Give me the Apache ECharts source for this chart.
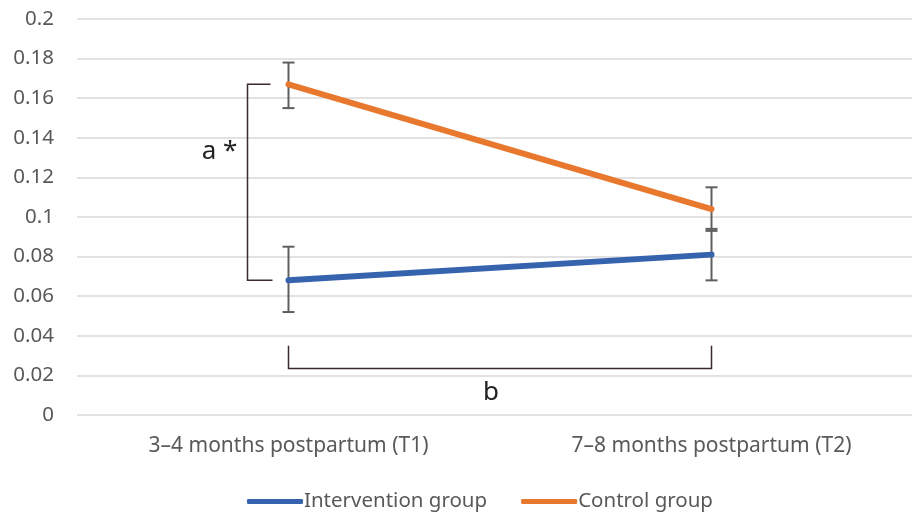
<!DOCTYPE html>
<html>
<head>
<meta charset="utf-8">
<script src="https://cdn.jsdelivr.net/npm/echarts@6/dist/echarts.min.js"></script>
<style>
  html, body { margin: 0; padding: 0; background: #fff; }
  #chart { width: 912px; height: 515px; }
</style>
</head>
<body>
<div id="chart"></div>
<script>
// data
var categories = ['3–4 months postpartum (T1)', '7–8 months postpartum (T2)'];
var intervention = [0.068, 0.081];
var interventionLow = [0.052, 0.068];
var interventionHigh = [0.085, 0.094];
var control = [0.167, 0.104];
var controlLow = [0.155, 0.093];
var controlHigh = [0.178, 0.115];
// annotation brackets: a* between groups at T1, b between time points
var bracketA = [0.167, 0.068, 0.133];
var bracketB = [0.035, 0.0235, 0.0115];

var blue = '#3563ae';
var orange = '#e9782f';
var font = 'Noto Sans';

function errData(lo, hi) {
    var out = [];
    for (var i = 0; i < lo.length; i++) out.push([i, lo[i], hi[i]]);
    return out;
}

function renderErr(params, api) {
    var x = api.value(0);
    var lo = api.coord([x, api.value(1)]);
    var hi = api.coord([x, api.value(2)]);
    var half = 6;
    var st = { stroke: '#5f5f5f', lineWidth: 2 };
    return {
        type: 'group',
        children: [
            { type: 'line', shape: { x1: lo[0], y1: lo[1], x2: hi[0], y2: hi[1] }, style: st },
            { type: 'line', shape: { x1: lo[0] - half, y1: lo[1], x2: lo[0] + half, y2: lo[1] }, style: st },
            { type: 'line', shape: { x1: hi[0] - half, y1: hi[1], x2: hi[0] + half, y2: hi[1] }, style: st }
        ]
    };
}

function renderBrackets(params, api) {
    var st = { stroke: '#3a2b2b', lineWidth: 1.5, fill: null };
    var txt = { fill: '#222', fontSize: 26, fontFamily: font, align: 'center', verticalAlign: 'middle' };
    var top = api.coord([0, bracketA[0]]);
    var bot = api.coord([0, bracketA[1]]);
    var vx = top[0] - 41;
    var ly = api.coord([0, bracketA[2]])[1];
    var l = api.coord([0, bracketB[0]]);
    var r = api.coord([1, bracketB[0]]);
    var by = api.coord([0, bracketB[1]])[1];
    var ty = api.coord([0, bracketB[2]])[1];
    return {
        type: 'group',
        children: [
            { type: 'polyline', shape: { points: [[top[0] - 18, top[1]], [vx, top[1]], [vx, bot[1]], [bot[0] - 16, bot[1]]] }, style: st },
            { type: 'text', style: Object.assign({ text: 'a *', x: vx - 28, y: ly }, txt) },
            { type: 'polyline', shape: { points: [[l[0], l[1]], [l[0], by], [r[0], by], [r[0], r[1]]] }, style: st },
            { type: 'text', style: Object.assign({ text: 'b', x: (l[0] + r[0]) / 2 - 9, y: ty }, txt) }
        ]
    };
}

var chart = echarts.init(document.getElementById('chart'));
chart.setOption({
    animation: false,
    textStyle: { fontFamily: font },
    grid: {
        left: 77, width: 846, top: 19, bottom: 100,
        containLabel: false, outerBoundsMode: 'none'
    },
    legend: {
        data: ['Intervention group', 'Control group'],
        bottom: -2,
        left: 242,
        icon: 'roundRect',
        itemWidth: 56,
        itemHeight: 5,
        itemGap: 34,
        textStyle: { color: '#595959', fontSize: 20.5, fontFamily: font, padding: [0, 0, 0, -4] }
    },
    xAxis: {
        type: 'category',
        data: categories,
        axisLine: { show: false },
        axisTick: { show: false },
        axisLabel: { color: '#595959', fontSize: 21, margin: 21 }
    },
    yAxis: {
        type: 'value',
        min: 0,
        max: 0.2,
        interval: 0.02,
        axisLine: { show: false },
        axisTick: { show: false },
        axisLabel: { color: '#595959', fontSize: 20.5, margin: 23 },
        splitLine: { lineStyle: { color: '#d9d9d9', width: 1.5 } }
    },
    series: [
        {
            type: 'custom',
            name: 'err-int',
            renderItem: renderErr,
            data: errData(interventionLow, interventionHigh),
            z: 1
        },
        {
            type: 'custom',
            name: 'err-ctl',
            renderItem: renderErr,
            data: errData(controlLow, controlHigh),
            z: 1
        },
        {
            name: 'Intervention group',
            type: 'line',
            data: intervention,
            symbol: 'none',
            color: blue,
            lineStyle: { width: 6, color: blue, cap: 'round' },
            z: 3
        },
        {
            name: 'Control group',
            type: 'line',
            data: control,
            symbol: 'none',
            color: orange,
            lineStyle: { width: 6, color: orange, cap: 'round' },
            z: 3
        },
        {
            type: 'custom',
            name: 'brackets',
            renderItem: renderBrackets,
            data: [[0]],
            z: 2,
            silent: true
        }
    ]
});
</script>
</body>
</html>
